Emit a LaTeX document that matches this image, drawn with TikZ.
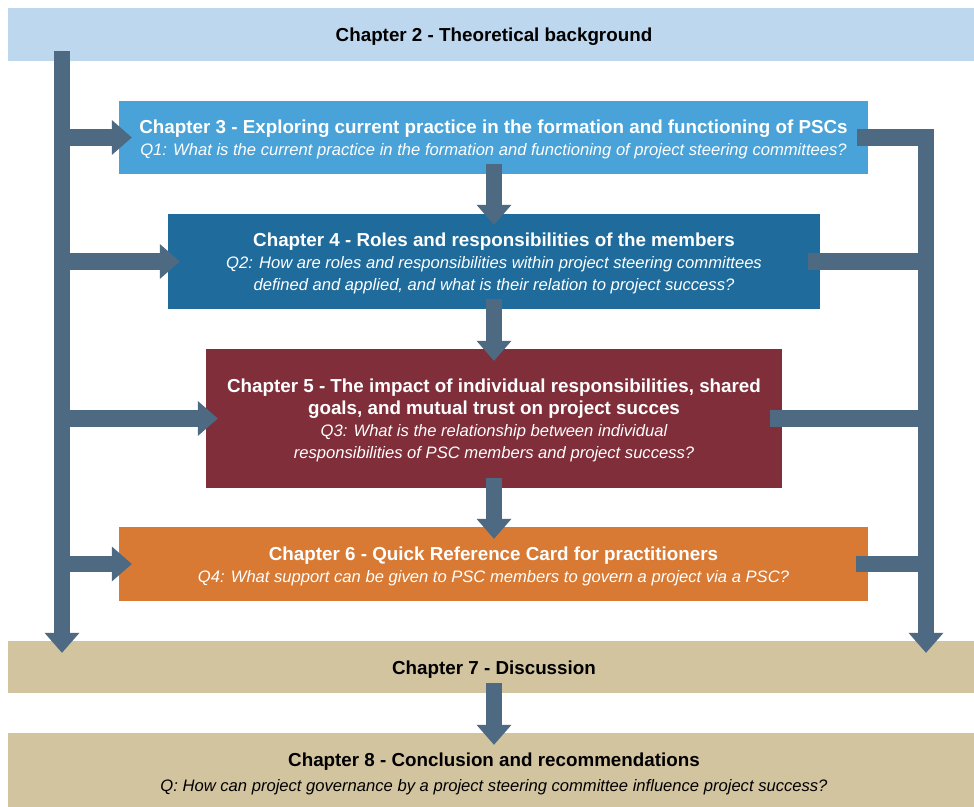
\documentclass[tikz,border=0pt]{standalone}
\usepackage{fontspec}
\setmainfont{Liberation Sans}
\usetikzlibrary{arrows.meta,calc}

\definecolor{bgblue}{RGB}{189,215,238}
\definecolor{chthree}{RGB}{74,163,216}
\definecolor{chfour}{RGB}{31,108,156}
\definecolor{chfive}{RGB}{127,46,58}
\definecolor{chsix}{RGB}{216,122,52}
\definecolor{sand}{RGB}{211,196,160}
\definecolor{flowc}{RGB}{78,106,130}

% title line (with a taller strut so the text block sits a little lower) and question line
\newcommand\chtitle{\fontsize{18.8}{22}\selectfont\bfseries\rule{0pt}{18pt}}
\newcommand\chtitlecont{\fontsize{18.8}{22}\selectfont\bfseries}
\newcommand\chq{\fontsize{16.6}{22}\selectfont\itshape}

\begin{document}
\begin{tikzpicture}[x=1pt,y=-1pt,
  box/.style={rectangle, draw=none, inner sep=0pt, align=center,
    text=white, font=\fontsize{16.6}{22}\selectfont},
  band/.style={box, fill=sand, text=black, minimum width=972pt},
  flow/.style={draw=flowc, line width=16.5pt,
    -{Triangle[width=35pt,length=20pt,line width=0pt]}},
  link/.style={draw=flowc, line width=16.5pt}]
\useasboundingbox (0,0) rectangle (974,806);

% chapter boxes
\node[box, fill=bgblue, text=black, minimum width=972pt, minimum height=53pt]
  (ch2) at (494,34.5) {{\chtitle Chapter 2 - Theoretical background}};
\node[box, fill=chthree, minimum width=749pt, minimum height=73pt]
  (ch3) at (493.5,137.5)
  {{\chtitle Chapter 3 - Exploring current practice in the formation and functioning of PSCs}\\
   {\chq Q1: What is the current practice in the formation and functioning of project steering committees?}};
\node[box, fill=chfour, minimum width=652pt, minimum height=95pt]
  (ch4) at (494,261.5)
  {{\chtitle Chapter 4 - Roles and responsibilities of the members}\\
   {\chq Q2: How are roles and responsibilities within project steering committees}\\
   {\chq defined and applied, and what is their relation to project success?}};
\node[box, fill=chfive, minimum width=576pt, minimum height=139pt]
  (ch5) at (494,418.5)
  {{\chtitle Chapter 5 - The impact of individual responsibilities, shared}\\
   {\chtitlecont goals, and mutual trust on project succes}\\
   {\chq Q3: What is the relationship between individual}\\
   {\chq responsibilities of PSC members and project success?}};
\node[box, fill=chsix, minimum width=749pt, minimum height=74pt]
  (ch6) at (493.5,564)
  {{\chtitle Chapter 6 - Quick Reference Card for practitioners}\\
   {\chq Q4: What support can be given to PSC members to govern a project via a PSC?}};
\node[band, minimum height=52pt] (ch7) at (494,667)
  {{\chtitle Chapter 7 - Discussion}};
\node[band, minimum height=77pt] (ch8) at (494,771.5)
  {{\chtitle Chapter 8 - Conclusion and recommendations}\\[3pt]
   {\chq Q: How can project governance by a project steering committee influence project success?}};

% x positions of the two side rails
\coordinate (lbar) at (62,0);
\coordinate (rbar) at (926,0);

% left rail from chapter 2 down to chapter 7, with branches into chapters 3-6
\draw[flow] ($(ch2.south -| lbar)+(0,-10)$) -- ($(ch7.north -| lbar)+(0,12)$);
\draw[flow] (ch3.west -| lbar) -- ($(ch3.west)+(13,0)$);
\draw[flow] (ch4.west -| lbar) -- ($(ch4.west)+(12,0)$);
\draw[flow] (ch5.west -| lbar) -- ($(ch5.west)+(12,0)$);
\draw[flow] (ch6.west -| lbar) -- ($(ch6.west)+(13,0)$);

% right rail collecting chapters 3-6 into chapter 7
\draw[flow] ($(ch3.east)+(-11,0)$) -| ($(ch7.north -| rbar)+(0,12)$);
\draw[link] ($(ch4.east)+(-12,0)$) -- (ch4.east -| rbar);
\draw[link] ($(ch5.east)+(-12,0)$) -- (ch5.east -| rbar);
\draw[link] ($(ch6.east)+(-12,0)$) -- (ch6.east -| rbar);

% central sequence of chapters
\draw[flow] ($(ch3.south)+(0.5,-10)$) -- ($(ch4.north)+(0,11)$);
\draw[flow] ($(ch4.south)+(0,-10)$) -- ($(ch5.north)+(0,12)$);
\draw[flow] ($(ch5.south)+(0,-10)$) -- ($(ch6.north)+(0.5,12)$);
\draw[flow] ($(ch7.south)+(0,-10)$) -- ($(ch8.north)+(0,12)$);
\end{tikzpicture}
\end{document}
